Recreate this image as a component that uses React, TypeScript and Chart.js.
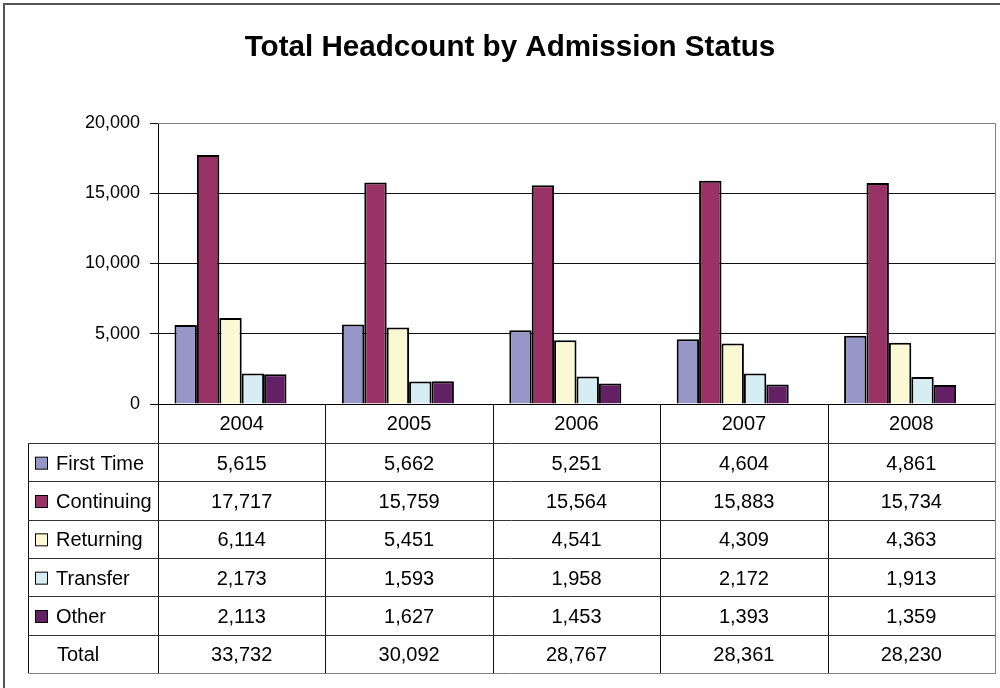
import React, { useEffect, useRef } from "react";
import { Chart, registerables } from "chart.js";

Chart.register(...registerables);

const years = ["2004", "2005", "2006", "2007", "2008"];
const seriesNames = ["First Time", "Continuing", "Returning", "Transfer", "Other"];
const firstTime = [5615, 5662, 5251, 4604, 4861];
const continuing = [17717, 15759, 15564, 15883, 15734];
const returning = [6114, 5451, 4541, 4309, 4363];
const transfer = [2173, 1593, 1958, 2172, 1913];
const other = [2113, 1627, 1453, 1393, 1359];
const totals = [33732, 30092, 28767, 28361, 28230];
const seriesColors = ["#9696C8", "#993366", "#FBF9D3", "#D5EDF3", "#642064"];
const yTicks = [0, 5000, 10000, 15000, 20000];

const FONT = "'Liberation Sans', Arial, sans-serif";
const fmt = (v: number) => v.toLocaleString("en-US");

const tablePlugin = {
  id: "dataTable",
  afterDraw(chart: any) {
    const ctx = chart.ctx as CanvasRenderingContext2D;
    const area = chart.chartArea;
    const xs = chart.scales.x;
    const n = years.length;
    const catW = (area.right - area.left) / n;
    const headerTop = area.bottom;
    const headerBottom = headerTop + 39;
    const tableBottom = 673;
    const rowH = (tableBottom - headerBottom) / 6;
    const labelLeft = 28;
    ctx.save();

    // outer frame
    ctx.lineWidth = 2;
    ctx.strokeStyle = "#555";
    ctx.beginPath();
    ctx.moveTo(4, 700);
    ctx.lineTo(4, 4);
    ctx.lineTo(1000, 4);
    ctx.stroke();

    // plot border top/right
    ctx.lineWidth = 1;
    ctx.strokeStyle = "#808080";
    ctx.beginPath();
    ctx.moveTo(area.left, area.top + 0.5);
    ctx.lineTo(area.right + 0.5, area.top + 0.5);
    ctx.lineTo(area.right + 0.5, tableBottom + 0.5);
    ctx.lineTo(labelLeft, tableBottom + 0.5);
    ctx.stroke();

    // axis line
    ctx.strokeStyle = "#000";
    ctx.beginPath();
    ctx.moveTo(area.left - 8, Math.round(area.bottom) + 0.5);
    ctx.lineTo(area.right, Math.round(area.bottom) + 0.5);
    ctx.stroke();

    // vertical table lines
    ctx.strokeStyle = "#111";
    for (let i = 0; i < n; i++) {
      const x = Math.round(area.left + i * catW) + 0.5;
      ctx.beginPath();
      ctx.moveTo(x, headerTop);
      ctx.lineTo(x, tableBottom);
      ctx.stroke();
    }
    ctx.beginPath();
    ctx.moveTo(labelLeft + 0.5, headerBottom);
    ctx.lineTo(labelLeft + 0.5, tableBottom);
    ctx.stroke();

    // horizontal row lines
    ctx.strokeStyle = "#333";
    for (let r = 0; r < 6; r++) {
      const y = Math.round(headerBottom + r * rowH) + 0.5;
      ctx.beginPath();
      ctx.moveTo(labelLeft, y);
      ctx.lineTo(area.right, y);
      ctx.stroke();
    }

    ctx.fillStyle = "#000";
    ctx.font = `20px ${FONT}`;
    ctx.textBaseline = "middle";
    ctx.textAlign = "center";
    // header
    for (let i = 0; i < n; i++) {
      const cx = xs.getPixelForValue(i);
      ctx.fillText(years[i], cx, (headerTop + headerBottom) / 2 + 1);
    }
    const rows = [firstTime, continuing, returning, transfer, other, totals];
    for (let r = 0; r < rows.length; r++) {
      const cy = headerBottom + r * rowH + rowH / 2 + 2;
      ctx.textAlign = "center";
      ctx.fillStyle = "#000";
      for (let i = 0; i < n; i++) {
        ctx.fillText(fmt(rows[r][i]), xs.getPixelForValue(i), cy);
      }
      ctx.textAlign = "left";
      if (r < seriesNames.length) {
        ctx.fillStyle = seriesColors[r];
        ctx.fillRect(35.5, cy - 7, 12, 12);
        ctx.strokeStyle = "#000";
        ctx.strokeRect(35.5, cy - 7, 12, 12);
        ctx.fillStyle = "#000";
        ctx.fillText(seriesNames[r], 56, cy);
      } else {
        ctx.fillText("Total", 57, cy);
      }
    }
    ctx.restore();
  },
};

export default function App() {
  const ref = useRef<HTMLCanvasElement>(null);
  useEffect(() => {
    if (!ref.current) return;
    const values = [firstTime, continuing, returning, transfer, other];
    const datasets: any[] = values.map((d, i) => ({
      label: seriesNames[i],
      data: d,
      backgroundColor: seriesColors[i],
      borderColor: "#000",
      borderWidth: 2,
      categoryPercentage: 0.803,
      barPercentage: 1,
    }));
    datasets.push({
      label: "",
      data: years.map(() => null),
      backgroundColor: "transparent",
      borderWidth: 0,
      categoryPercentage: 0.803,
      barPercentage: 1,
    });
    const chart = new Chart(ref.current, {
      type: "bar",
      data: { labels: years, datasets },
      options: {
        responsive: false,
        animation: false,
        devicePixelRatio: 1,
        layout: { padding: { left: 25, right: 5, top: 0, bottom: 284 } },
        plugins: {
          legend: { display: false },
          tooltip: { enabled: false },
          title: {
            display: true,
            text: "Total Headcount by Admission Status",
            color: "#000",
            font: { family: FONT, size: 29.6, weight: "bold" },
            padding: { top: 30, bottom: 57.5 },
          },
        },
        scales: {
          x: { display: false },
          y: {
            min: 0,
            max: 20000,
            afterFit: (s: any) => {
              s.width = 133;
            },
            afterBuildTicks: (s: any) => {
              s.ticks = yTicks.map((v) => ({ value: v }));
            },
            ticks: {
              color: "#000",
              font: { family: FONT, size: 18 },
              padding: 10,
              callback: (v: any) => fmt(Number(v)),
            },
            grid: {
              color: (c: any) => (c.tick && c.tick.value === 20000 ? "#808080" : "#111"),
              tickLength: 8,
              tickColor: "#111",
            },
            border: { display: true, color: "#000", width: 1 },
          },
        },
      },
      plugins: [tablePlugin],
    });
    return () => chart.destroy();
  }, []);
  return (
    <div style={{ position: "absolute", left: 0, top: 0, width: 1000, height: 688, background: "#fff" }}>
      <canvas ref={ref} width={1000} height={688} style={{ display: "block" }} />
    </div>
  );
}
